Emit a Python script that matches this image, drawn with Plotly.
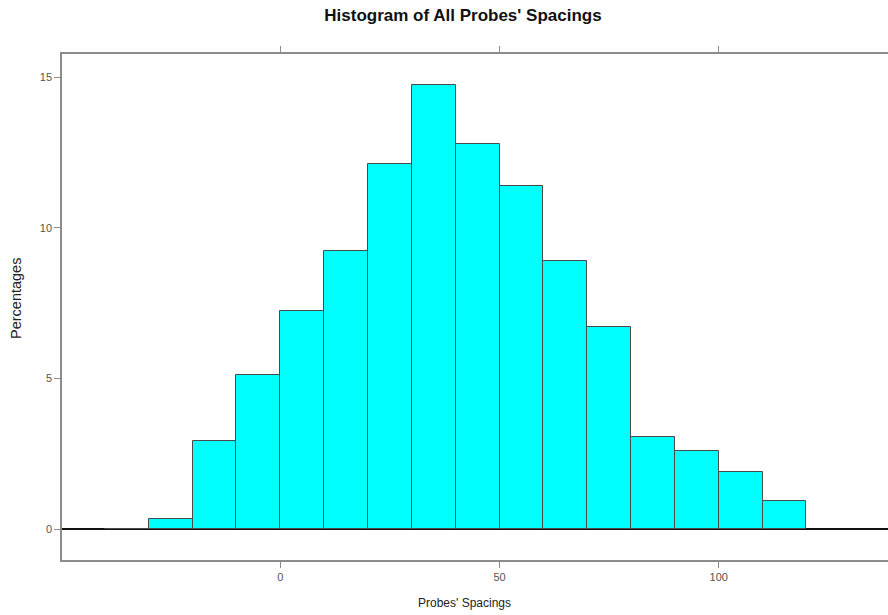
import plotly.graph_objects as go

# Histogram bins (left edges, width 10) and percentage of probes per bin
bin_left = [-40, -30, -20, -10, 0, 10, 20, 30, 40, 50, 60, 70, 80, 90, 100, 110]
percentages = [0.01, 0.32, 2.92, 5.12, 7.24, 9.23, 12.12, 14.75, 12.79,
               11.39, 8.89, 6.72, 3.07, 2.59, 1.90, 0.93]
bin_width = 10

x_ticks = [0, 50, 100]
y_ticks = [0, 5, 10, 15]

centers = [b + bin_width / 2 for b in bin_left]

fig = go.Figure()
fig.add_trace(go.Bar(
    x=centers,
    y=percentages,
    width=[bin_width] * len(centers),
    marker=dict(color="#00FFFF", line=dict(color="#4a4a4a", width=1)),
    hoverinfo="x+y",
))

frame = "#8c8c8c"
sans = "Liberation Sans, Arial, sans-serif"
tickfont = dict(family=sans, size=11, color="#555555")

fig.update_layout(
    width=888,
    height=615,
    margin=dict(l=62, r=0, t=54, b=55),
    paper_bgcolor="white",
    plot_bgcolor="white",
    bargap=0,
    showlegend=False,
    title=dict(
        text="<b>Histogram of All Probes' Spacings</b>",
        x=463 / 888, xref="container", xanchor="center",
        y=1 - 15 / 615, yref="container", yanchor="middle",
        font=dict(family=sans, size=17, color="#111111"),
    ),
    xaxis=dict(
        range=[-49.8, 138.6],
        tickvals=x_ticks,
        ticktext=[str(v) for v in x_ticks],
        ticks="outside", ticklen=6, tickwidth=1, tickcolor=frame,
        showline=True, linecolor=frame, linewidth=1.5, mirror="ticks",
        showgrid=False, zeroline=False,
        tickfont=tickfont,
    ),
    yaxis=dict(
        range=[-1.03, 15.78],
        tickvals=y_ticks,
        ticktext=[str(v) for v in y_ticks],
        ticks="outside", ticklen=6, tickwidth=1, tickcolor=frame,
        showline=True, linecolor=frame, linewidth=1.5, mirror=False,
        showgrid=False, zeroline=False,
        tickfont=tickfont,
    ),
    shapes=[dict(
        type="line", xref="paper", x0=0, x1=1, yref="y", y0=0, y1=0,
        line=dict(color="#111111", width=2), layer="below",
    )],
    annotations=[
        dict(text="Probes' Spacings", xref="paper", yref="paper",
             x=(464 - 62) / 826, y=-(604 - 561) / 506, xanchor="center", yanchor="middle",
             showarrow=False,
             font=dict(family=sans, size=12, color="#222222")),
        dict(text="Percentages", xref="paper", yref="paper",
             x=-(62 - 16) / 826, y=(561 - 300) / 506, xanchor="center", yanchor="middle",
             textangle=-90, showarrow=False,
             font=dict(family=sans, size=14.5, color="#222222")),
    ],
)

fig.write_html("out.html")
